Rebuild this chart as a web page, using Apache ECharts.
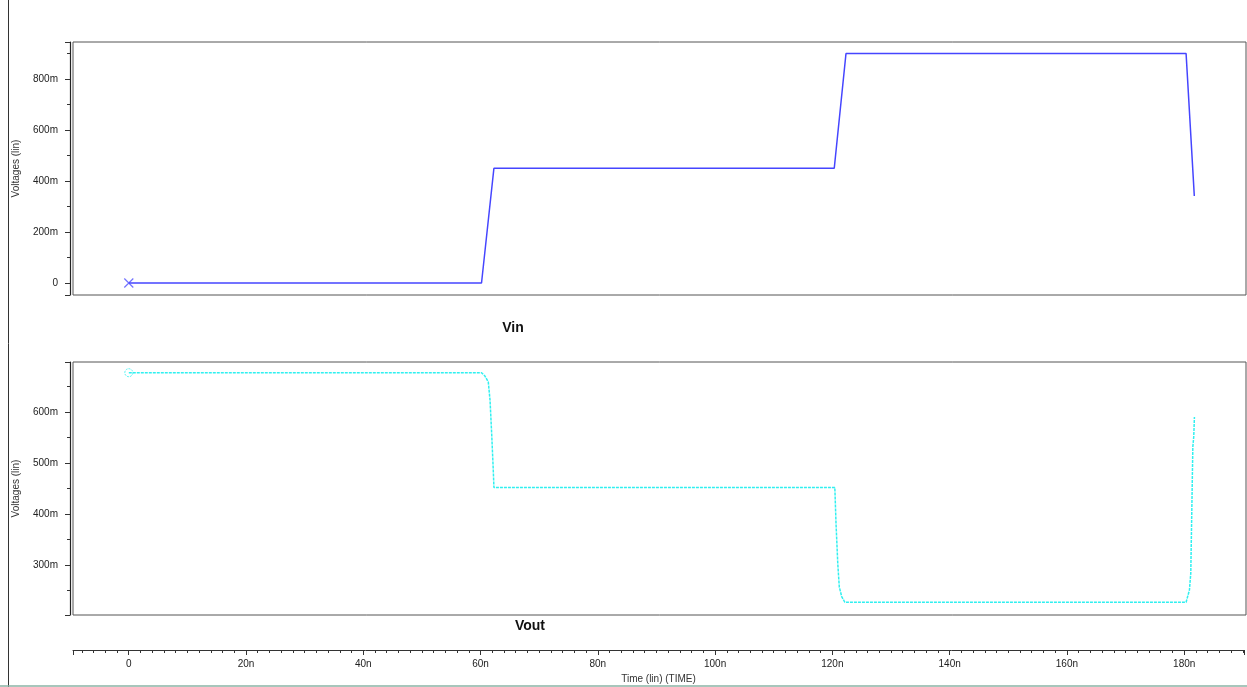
<!DOCTYPE html>
<html>
<head>
<meta charset="utf-8">
<script src="https://cdn.jsdelivr.net/npm/echarts@6/dist/echarts.min.js"></script>
<style>
html,body{margin:0;padding:0;background:#fff;}
#c{width:1247px;height:687px;}
</style>
</head>
<body>
<div id="c"></div>
<script>
// Time in ns, voltages in mV
const vinTime = [0, 60.05, 62.16, 120.1, 122.1, 180.0, 181.4];
const vinValue = [0, 0, 450, 450, 900, 900, 341];

const voutTime = [0, 60.05, 60.6, 61.2, 61.5, 61.8, 62.05, 62.16,
  120.2, 120.4, 120.7, 120.96, 121.37, 121.9,
  180.0, 180.57, 180.8, 180.9, 181.03, 181.15, 181.3, 181.42];
const voutValue = [677, 677, 671, 659, 623, 552, 486, 452,
  452, 382, 303, 257, 238, 227,
  227, 251, 284, 355, 447, 532, 551, 590];

const vinMarker = [[0, 0]];
const voutMarker = [[0, 677]];

const timeMin = -9.5, timeMax = 190.2;
const topMin = -47, topMax = 945;
const botMin = 202, botMax = 698;

const FONT = 'Liberation Sans, Arial, sans-serif';
const pair = (t, v) => t.map((x, i) => [x, v[i]]);

function near(v, step) { const r = v / step; return Math.abs(r - Math.round(r)) < 1e-6; }

function yAxisCfg(gi, min, max, step, minorSplit) {
  return {
    type: 'value', gridIndex: gi, min: min, max: max, splitNumber: 5,
    offset: 3, position: 'left',
    name: 'Voltages (lin)', nameLocation: 'middle', nameGap: 49,
    nameTextStyle: { fontFamily: FONT, fontSize: 10, color: '#333' },
    axisLine: { show: true, onZero: false, lineStyle: { color: '#222', width: 1.2 } },
    axisTick: { show: true, length: 5, lineStyle: { color: '#333' } },
    minorTick: { show: true, splitNumber: minorSplit, length: 3, lineStyle: { color: '#333' } },
    splitLine: { show: false },
    axisLabel: {
      margin: 12, fontFamily: FONT, fontSize: 10, color: '#222',
      showMinLabel: true, showMaxLabel: true,
      formatter: v => (near(v, step) ? (Math.round(v) === 0 ? '0' : Math.round(v) + 'm') : '')
    }
  };
}

const chart = echarts.init(document.getElementById('c'), null, { renderer: 'canvas' });
chart.setOption({
  backgroundColor: '#fff',
  animation: false,
  grid: [
    { left: 73, right: 1, top: 42, height: 253, show: true, borderColor: '#555', borderWidth: 1, backgroundColor: '#fff' },
    { left: 73, right: 1, top: 362, height: 253, show: true, borderColor: '#555', borderWidth: 1, backgroundColor: '#fff' },
    { left: 73, right: 1, top: 640, height: 10, show: false }
  ],
  xAxis: [
    { type: 'value', gridIndex: 0, min: timeMin, max: timeMax, show: false },
    { type: 'value', gridIndex: 1, min: timeMin, max: timeMax, show: false },
    {
      type: 'value', gridIndex: 2, min: timeMin, max: timeMax, splitNumber: 10, position: 'bottom',
      name: 'Time (lin) (TIME)', nameLocation: 'middle', nameGap: 24,
      nameTextStyle: { fontFamily: FONT, fontSize: 10, color: '#333' },
      axisLine: { show: true, onZero: false, lineStyle: { color: '#333', width: 1 } },
      axisTick: { show: true, length: 5, lineStyle: { color: '#333' } },
      minorTick: { show: true, splitNumber: 10, length: 3, lineStyle: { color: '#333' } },
      splitLine: { show: false },
      axisLabel: {
        margin: 9, fontFamily: FONT, fontSize: 10, color: '#222',
        formatter: v => (near(v, 20) ? (Math.round(v) === 0 ? '0' : Math.round(v) + 'n') : '')
      }
    }
  ],
  yAxis: [
    yAxisCfg(0, topMin, topMax, 200, 2),
    yAxisCfg(1, botMin, botMax, 100, 2),
    { type: 'value', gridIndex: 2, show: false, min: 0, max: 1 }
  ],
  series: [
    {
      name: 'Vin', type: 'line', xAxisIndex: 0, yAxisIndex: 0,
      data: pair(vinTime, vinValue), symbol: 'none',
      lineStyle: { color: '#4545ff', width: 1.5 }
    },
    {
      name: 'VinMarker', type: 'scatter', xAxisIndex: 0, yAxisIndex: 0,
      data: vinMarker, symbol: 'path://M0,0L10,10M10,0L0,10', symbolSize: 9,
      itemStyle: { color: 'none', borderColor: '#5050ff', borderWidth: 1.2 }
    },
    {
      name: 'Vout', type: 'line', xAxisIndex: 1, yAxisIndex: 1,
      data: pair(voutTime, voutValue), symbol: 'none',
      lineStyle: { color: '#30f0f0', width: 1.5, type: [3, 1] }
    },
    {
      name: 'VoutMarker', type: 'scatter', xAxisIndex: 1, yAxisIndex: 1,
      data: voutMarker, symbol: 'circle', symbolSize: 8,
      itemStyle: { color: 'rgba(0,0,0,0)', borderColor: '#30f0f0', borderWidth: 1, borderType: [2, 1] }
    }
  ],
  graphic: [
    { type: 'line', shape: { x1: 8.5, y1: 0, x2: 8.5, y2: 687 }, style: { stroke: '#333', lineWidth: 1 } },
    { type: 'line', shape: { x1: 0, y1: 686, x2: 1247, y2: 686 }, style: { stroke: '#8ab3a5', lineWidth: 1.5 } },
    { type: 'line', shape: { x1: 70.5, y1: 42, x2: 70.5, y2: 295 }, style: { stroke: '#333', lineWidth: 1 } },
    { type: 'line', shape: { x1: 70.5, y1: 362, x2: 70.5, y2: 615 }, style: { stroke: '#333', lineWidth: 1 } },
    { type: 'text', x: 513, y: 328, style: { text: 'Vin', font: 'bold 14px ' + FONT, fill: '#111', textAlign: 'center', textVerticalAlign: 'middle' } },
    { type: 'text', x: 530, y: 626, style: { text: 'Vout', font: 'bold 14px ' + FONT, fill: '#111', textAlign: 'center', textVerticalAlign: 'middle' } }
  ]
});
</script>
</body>
</html>
